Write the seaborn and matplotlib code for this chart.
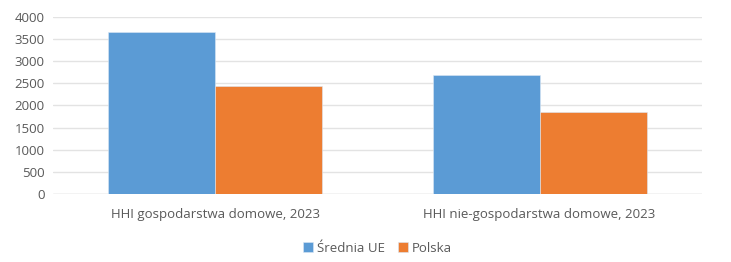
import matplotlib
matplotlib.use("Agg")
import matplotlib.pyplot as plt
import seaborn as sns
import pandas as pd

categories = ["HHI gospodarstwa domowe, 2023", "HHI nie-gospodarstwa domowe, 2023"]
series_names = ["Średnia UE", "Polska"]
srednia_ue = [3650, 2690]
polska = [2440, 1860]
yticks = [0, 500, 1000, 1500, 2000, 2500, 3000, 3500, 4000]

df = pd.DataFrame({
    "kategoria": categories * 2,
    "seria": [series_names[0]] * 2 + [series_names[1]] * 2,
    "wartosc": srednia_ue + polska,
})

sns.set_theme(style="white")
plt.rcParams["font.family"] = ["Open Sans", "DejaVu Sans"]

fig = plt.figure(figsize=(7.31, 2.62), dpi=100)
ax = fig.add_axes([0.0725, 0.2595, 0.8875, 0.6765])

sns.barplot(data=df, x="kategoria", y="wartosc", hue="seria",
            palette=["#5B9BD5", "#ED7D31"], saturation=1, width=0.66, ax=ax,
            edgecolor="#dbe8f5", linewidth=0.4, legend=True)

ax.set_ylim(0, 4000)
ax.set_xlim(-0.5, 1.5)
ax.set_yticks(yticks)
ax.set_yticklabels([str(t) for t in yticks])
ax.yaxis.grid(True, color="#e3e3e3", linewidth=1)
ax.set_axisbelow(True)
for s in ax.spines.values():
    s.set_visible(False)
ax.axhline(0, color="#d9d9d9", linewidth=1, zorder=0.5)
ax.set_xlabel("")
ax.set_ylabel("")
ax.tick_params(axis="both", length=0, colors="#595959", labelsize=9.5)
ax.tick_params(axis="y", pad=6)
ax.tick_params(axis="x", pad=10)

handles, labels = ax.get_legend_handles_labels()
ax.legend(handles, labels, loc="center", bbox_to_anchor=(0.5, -0.305),
          ncol=2, frameon=False, fontsize=9.5, handlelength=0.75, handleheight=0.75,
          handletextpad=0.3, columnspacing=1.0, labelcolor="#595959")

fig.savefig("out.png", dpi=100)
